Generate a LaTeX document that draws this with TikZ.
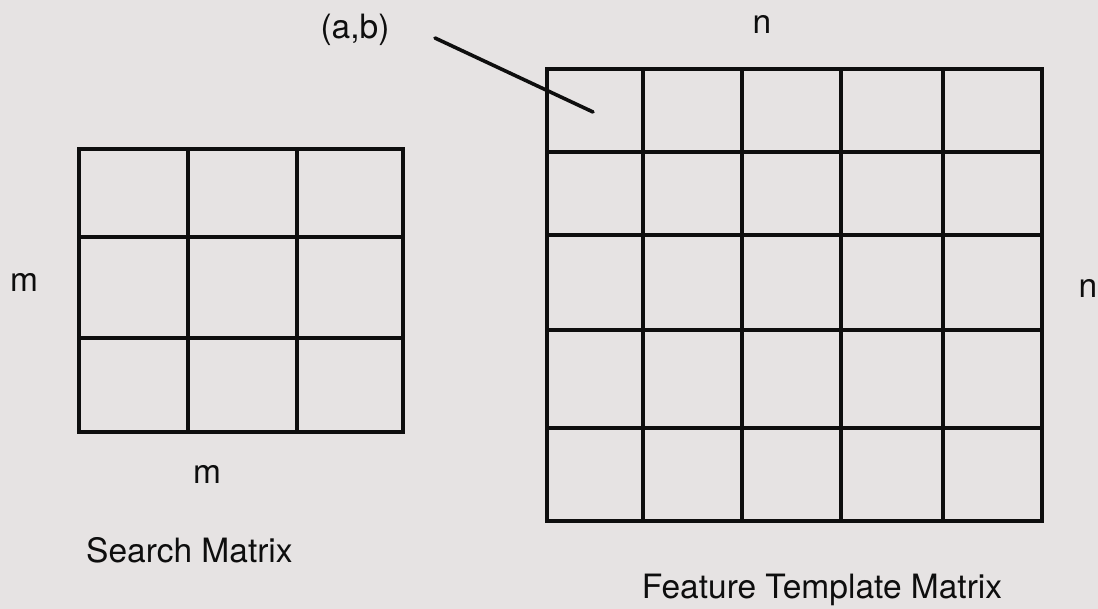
\documentclass[tikz,border=0pt]{standalone}
\usepackage{fontspec}
\setmainfont{TeX Gyre Heros}
\definecolor{paper}{HTML}{E6E3E3}
\definecolor{ink}{HTML}{0E0E0E}
\begin{document}
\begin{tikzpicture}[x=1pt,y=-1pt,
  gridline/.style={draw=ink,line width=3.4pt},
  lbl/.style={text=ink,inner sep=0pt,font=\fontsize{33.5}{40}\selectfont},
  pointer/.style={draw=ink,line width=3.6pt,line cap=round}]
\fill[paper] (0,0) rectangle (1098,609);
\useasboundingbox (0,0) rectangle (1098,609);
% Search matrix (3x3)
\draw[gridline] (79,149) rectangle (403,432);
\foreach \x in {188,297} \draw[gridline] (\x,149) -- (\x,432);
\foreach \y in {237,338} \draw[gridline] (79,\y) -- (403,\y);
% Feature template matrix (5x5)
\draw[gridline] (547,69) rectangle (1042,521);
\foreach \x in {643,742,841,943} \draw[gridline] (\x,69) -- (\x,521);
\foreach \y in {152,235,330,428} \draw[gridline] (547,\y) -- (1042,\y);
% labels
\node[lbl,anchor=base] (mleft) at (24,292) {m};
\node[lbl,anchor=base] (mbot) at (207,483) {m};
\node[lbl,anchor=base] (ntop) at (762,34) {n};
\node[lbl,anchor=base] (nright) at (1088,298) {n};
\node[lbl,anchor=base] (ab) at (355,39) {(a,b)};
\node[lbl,anchor=base west] (sm) at (86,562) {Search Matrix};
\node[lbl,anchor=base] (ftm) at (822,598) {Feature Template Matrix};
% pointer
\coordinate (pstart) at (435,38);
\coordinate (pend) at (593,112);
\draw[pointer] (pstart) -- (pend);
\end{tikzpicture}
\end{document}
